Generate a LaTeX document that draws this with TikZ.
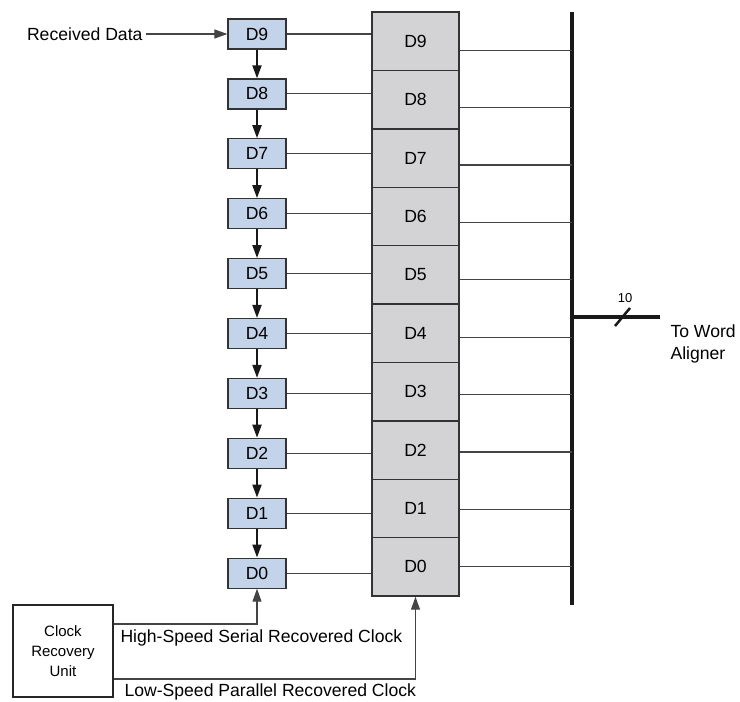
\documentclass[tikz,border=0pt]{standalone}
\usepackage{fontspec}
\setmainfont{Liberation Sans}
\usetikzlibrary{arrows.meta}
\definecolor{serblue}{HTML}{C3D3EA}
\definecolor{pargray}{HTML}{D3D3D5}
\definecolor{wiregray}{HTML}{444444}
\begin{document}
\begin{tikzpicture}[x=1pt,y=-1pt,
  every node/.style={font=\fontsize{17.6}{20}\selectfont},
  serbit/.style={draw=black!80,fill=serblue,line width=1.2pt,minimum width=58pt,minimum height=30pt,inner sep=0pt},
  parbit/.style={draw=black!80,fill=pargray,line width=1.4pt,minimum width=87pt,minimum height=58.4pt,inner sep=0pt},
  crubox/.style={draw=black!85,line width=1.2pt,minimum width=100pt,minimum height=92pt,align=center,font=\fontsize{15}{20}\selectfont},
  wire/.style={draw=wiregray,line width=1.1pt},
  tip/.style={-{Triangle[length=13pt,width=9pt]}},
  bus/.style={draw=black!90,line width=4pt}]
  \useasboundingbox (0,0) rectangle (740,702);
  % shift register and parallel register
  \foreach \i in {0,...,9} {
    \node[serbit] (s\i) at (257,{34+(9-\i)*59.9}) {D\i};
    \node[parbit] (p\i) at (415.5,{41.2+(9-\i)*58.4}) {D\i};
  }
  \foreach \i [evaluate=\i as \j using int(\i-1)] in {1,...,9}
    \draw[black!90,line width=2pt,tip] (s\i.south) -- (s\j.north);
  % bus to word aligner
  \coordinate (bustop) at (572,12);
  \coordinate (busbot) at (572,605);
  \draw[bus] (bustop) -- (busbot);
  \foreach \i in {0,...,9} {
    \draw[wire] (s\i.east) -- (s\i.east -| p\i.west);
    \draw[wire] ([yshift=-\i pt]p\i.east) -- ([yshift=-\i pt]p\i.east -| bustop);
  }
  \coordinate (busout) at (572,317);
  \coordinate (aligner) at (660,317);
  \draw[bus] (busout) -- (aligner);
  \draw[black!90,line width=2.5pt] (615,326) -- (630,308);
  \node[font=\fontsize{13}{15}\selectfont] (width) at (625,298) {10};
  \node[anchor=west,align=left,font=\fontsize{17.6}{22}\selectfont] (twa) at (667,344) {To Word\\Aligner};
  % input and clocks
  \node[anchor=east] (rxd) at (146,34) {Received Data};
  \draw[wire,tip] (rxd.east) -- (s9.west);
  \node[crubox] (cru) at (63,651) {Clock\\Recovery\\Unit};
  \draw[wire,tip] ([yshift=27pt]cru.east) -| (s0.south);
  \draw[wire,tip] ([yshift=-28pt]cru.east) -| (p0.south);
  \node[anchor=west] (hsclk) at (117,638) {High-Speed Serial Recovered Clock};
  \node[anchor=west] (lsclk) at (121,692) {Low-Speed Parallel Recovered Clock};
\end{tikzpicture}
\end{document}
